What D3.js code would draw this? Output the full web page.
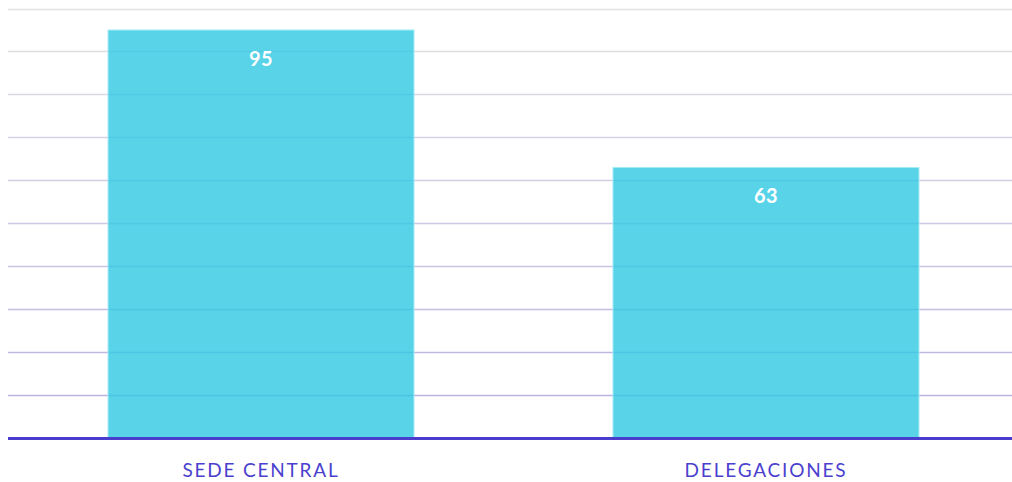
<!DOCTYPE html>
<html>
<head>
<meta charset="utf-8">
<script src="https://cdn.jsdelivr.net/npm/d3@7"></script>
<style>
  html, body { margin: 0; padding: 0; background: #fff; }
  svg { display: block; }
</style>
</head>
<body>
<div id="chart"></div>
<script>
// chart data
const categories = ["SEDE CENTRAL", "DELEGACIONES"];
const values = [95, 63];
const yTicks = [0, 10, 20, 30, 40, 50, 60, 70, 80, 90, 100];

const width = 1012, height = 482;
const plotLeft = 8, plotRight = 1012, plotBase = 438, plotTop = 8.5;

const svg = d3.select("#chart").append("svg")
    .attr("width", width)
    .attr("height", height);

const x = d3.scaleBand()
    .domain(categories)
    .range([7, 1020])
    .paddingInner(0.394)
    .paddingOuter(0.2);

const y = d3.scaleLinear()
    .domain([0, 100])
    .range([plotBase, plotTop]);

// gridlines, grey at the top fading to lavender near the base
const gridColor = d3.scaleLinear()
    .domain([100, 10])
    .range(["#e2e2e4", "#bdb3e2"]);

svg.append("g").selectAll("line")
    .data(yTicks.filter(d => d > 0))
    .enter()
    .append("line")
    .attr("x1", plotLeft)
    .attr("x2", plotRight)
    .attr("y1", d => Math.round(y(d)) + 0.5)
    .attr("y2", d => Math.round(y(d)) + 0.5)
    .attr("stroke", d => gridColor(d))
    .attr("stroke-width", 1.5);

// bars
svg.append("g").selectAll("rect")
    .data(values)
    .enter()
    .append("rect")
    .attr("x", (d, i) => x(categories[i]))
    .attr("y", d => y(d))
    .attr("width", x.bandwidth())
    .attr("height", d => plotBase - y(d))
    .attr("fill", "#2ec8e2")
    .attr("fill-opacity", 0.8)
    .attr("stroke", "#a8ecf6")
    .attr("stroke-width", 1);

// value labels
svg.append("g").selectAll("text")
    .data(values)
    .enter()
    .append("text")
    .attr("x", (d, i) => x(categories[i]) + x.bandwidth() / 2)
    .attr("y", d => y(d) + 36)
    .attr("text-anchor", "middle")
    .attr("font-family", "Lato, 'Open Sans', sans-serif")
    .attr("font-weight", "bold")
    .attr("font-size", "20px")
    .attr("letter-spacing", "0.5px")
    .attr("fill", "#ffffff")
    .text(d => d);

// baseline
svg.append("line")
    .attr("x1", plotLeft)
    .attr("x2", plotRight)
    .attr("y1", y(0) + 0.5)
    .attr("y2", y(0) + 0.5)
    .attr("stroke", "#4a3ccc")
    .attr("stroke-width", 3);

// category axis labels
svg.append("g").selectAll("text")
    .data(categories)
    .enter()
    .append("text")
    .attr("x", d => x(d) + x.bandwidth() / 2)
    .attr("y", 477)
    .attr("text-anchor", "middle")
    .attr("font-family", "Lato, 'Open Sans', sans-serif")
    .attr("font-size", "19px")
    .attr("letter-spacing", "1.8px")
    .attr("fill", "#4b3fcf")
    .text(d => d);
</script>
</body>
</html>
